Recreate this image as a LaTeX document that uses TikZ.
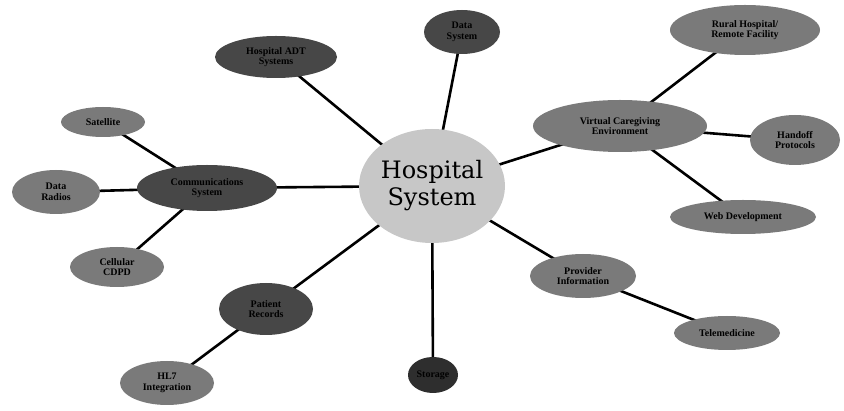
\documentclass[tikz,border=0pt]{standalone}
\usepackage{fontspec}
\setmainfont{Liberation Serif}
\newfontfamily\hubfont{DejaVu Serif}
\usetikzlibrary{shapes.geometric,backgrounds}
\tikzset{
  x=1pt, y=-1pt,
  bubble/.style={ellipse, inner sep=0pt, align=center, font=\bfseries\fontsize{10}{10.5}\selectfont, text=black},
  darkbub/.style={bubble, fill=black!72},
  midbub/.style={bubble, fill=black!52},
  hub/.style={ellipse, fill=black!22, inner sep=0pt, align=center, font=\hubfont\fontsize{24}{27}\selectfont},
  link/.style={draw=black, line width=2.6pt}
}
\begin{document}
\begin{tikzpicture}
\useasboundingbox (0,0) rectangle (844,411);

% central hub
\node[hub, minimum width=146, minimum height=114] (hub) at (432,186) {Hospital\\System};

% first ring
\node[darkbub, minimum width=122, minimum height=42] (adt)  at (276,57)  {Hospital ADT\\Systems};
\node[darkbub, minimum width=76,  minimum height=44] (data) at (462,32)  {Data\\System};
\node[midbub,  minimum width=174, minimum height=52] (vce)  at (620,126) {Virtual Caregiving\\Environment};
\node[midbub,  minimum width=106, minimum height=44] (prov) at (583,276) {Provider\\Information};
\node[darkbub, fill=black!82, minimum width=50, minimum height=36] (stor) at (433,375) {Storage};
\node[darkbub, minimum width=94,  minimum height=52] (pat)  at (266,309) {Patient\\Records};
\node[darkbub, minimum width=140, minimum height=46] (comm) at (207,188) {Communications\\System};

% outer ring
\node[midbub, minimum width=150, minimum height=50] (rural) at (745,30)  {Rural Hospital/\\Remote Facility};
\node[midbub, minimum width=90,  minimum height=50] (hand)  at (795,140) {Handoff\\Protocols};
\node[midbub, minimum width=146, minimum height=34] (web)   at (743,217) {Web Development};
\node[midbub, minimum width=106, minimum height=34] (tele)  at (727,333) {Telemedicine};
\node[midbub, minimum width=94,  minimum height=44] (hl7)   at (167,383) {HL7\\Integration};
\node[midbub, minimum width=84,  minimum height=30] (sat)   at (103,122) {Satellite};
\node[midbub, minimum width=88,  minimum height=44] (radio) at (56,192)  {Data\\Radios};
\node[midbub, minimum width=94,  minimum height=40] (cell)  at (117,267) {Cellular\\CDPD};

% connectors, kept behind the bubbles
\begin{pgfonlayer}{background}
  \foreach \n in {adt,data,vce,prov,stor,pat,comm}
    \draw[link] (hub.center) -- (\n.center);
  \foreach \n in {rural,hand,web}
    \draw[link] (vce.center) -- (\n.center);
  \foreach \n in {sat,radio,cell}
    \draw[link] (comm.center) -- (\n.center);
  \draw[link] (prov.center) -- (tele.center);
  \draw[link] (pat.center) -- (hl7.center);
\end{pgfonlayer}
\end{tikzpicture}
\end{document}
